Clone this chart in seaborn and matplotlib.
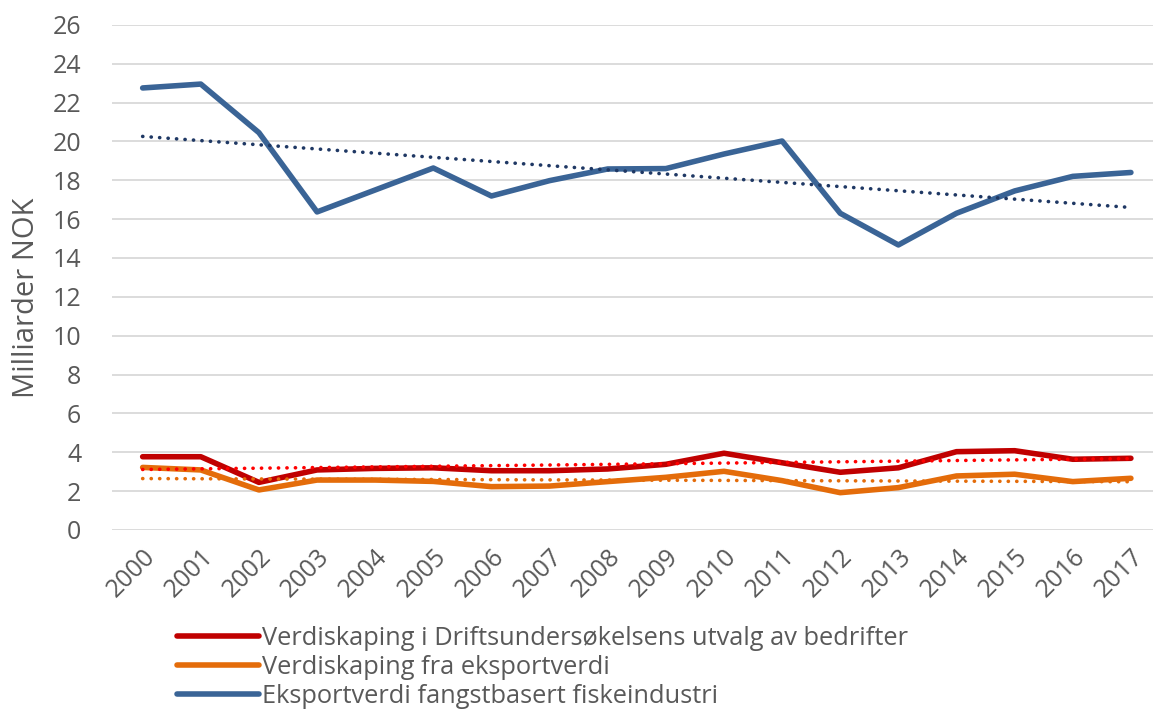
import numpy as np
import pandas as pd
import matplotlib
matplotlib.use("Agg")
import matplotlib.pyplot as plt
import seaborn as sns

# ==========================================================
# Data, milliarder NOK
# ==========================================================
years = list(range(2000, 2018))

drift_values = [3.77, 3.77, 2.45, 3.09, 3.17, 3.20, 3.05, 3.05, 3.14, 3.38,
                3.95, 3.46, 2.97, 3.20, 4.03, 4.08, 3.64, 3.69]
eksport_values = [3.22, 3.09, 2.06, 2.57, 2.57, 2.50, 2.23, 2.26, 2.49, 2.71,
                  3.02, 2.54, 1.92, 2.18, 2.78, 2.87, 2.49, 2.66]
fisk_values = [22.75, 22.95, 20.45, 16.37, 17.50, 18.63, 17.19, 17.98, 18.58, 18.60,
               19.35, 20.02, 16.30, 14.67, 16.30, 17.45, 18.20, 18.40]

labels = ["Verdiskaping i Driftsundersøkelsens utvalg av bedrifter",
          "Verdiskaping fra eksportverdi",
          "Eksportverdi fangstbasert fiskeindustri"]
line_colors = ["#C00000", "#E46C0A", "#3A6496"]
trend_colors = ["#FF0000", "#E46C0A", "#1F3864"]

y_ticks = list(range(0, 27, 2))

# ==========================================================
# Plot
# ==========================================================
sns.set_theme(style="white")
plt.rcParams["font.family"] = ["Open Sans", "DejaVu Sans"]
text_color = "#595959"

fig = plt.figure(figsize=(11.53, 7.09), dpi=100)
ax = fig.add_axes([0.097, 0.2525, 0.903, 0.7125])

series = [drift_values, eksport_values, fisk_values]
for values, label, color, tcolor in zip(series, labels, line_colors, trend_colors):
    df = pd.DataFrame({"year": years, "value": values})
    sns.lineplot(data=df, x="year", y="value", color=color, linewidth=4,
                 label=label, ax=ax, solid_capstyle="round", zorder=3)
    # linear trend line (like Excel's trendline)
    k, m = np.polyfit(years, values, 1)
    trend = [k * yr + m for yr in years]
    ax.plot(years, trend, color=tcolor, linewidth=2.6, linestyle=(0, (0.05, 2.3)),
            dash_capstyle="round", zorder=4)

ax.set_xlim(1999.47, 2017.38)
ax.set_ylim(0, 26)
ax.set_yticks(y_ticks)
ax.set_xticks(years)
ax.set_xticklabels([str(yr) for yr in years], rotation=45, ha="right",
                   rotation_mode="anchor")
ax.tick_params(axis="y", length=0, pad=22, labelsize=18, labelcolor=text_color)
ax.tick_params(axis="x", length=0, pad=10, labelsize=18, labelcolor=text_color)
ax.grid(axis="y", color="#D9D9D9", linewidth=1.3)
ax.set_axisbelow(True)
for side in ["top", "right", "left", "bottom"]:
    ax.spines[side].set_visible(False)

ax.set_xlabel("")
ax.set_ylabel("Milliarder NOK", fontsize=21, color=text_color, labelpad=6)
ax.yaxis.set_label_coords(-0.068, 0.46)

handles, leg_labels = ax.get_legend_handles_labels()
ax.get_legend().remove()
fig.legend(handles, leg_labels, loc="upper left", bbox_to_anchor=(0.145, 0.131),
           frameon=False, fontsize=18.3, handlelength=3.2, handletextpad=0.12,
           labelspacing=0.15, labelcolor=text_color, borderaxespad=0)

fig.savefig("out.png", dpi=100)
